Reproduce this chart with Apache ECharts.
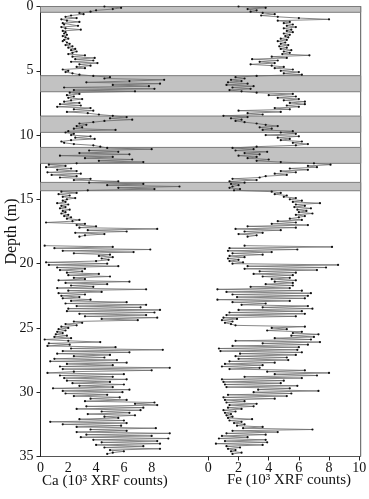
<!DOCTYPE html>
<html>
<head>
<meta charset="utf-8">
<script src="https://cdn.jsdelivr.net/npm/echarts@6/dist/echarts.min.js"></script>
<style>
html, body { margin: 0; padding: 0; background: #fff; }
#chart { width: 369px; height: 499px; }
</style>
</head>
<body>
<div id="chart"></div>
<script>
// sample depths (m); null row marks the core gap around 18 m
var depth = [
  0.0, 0.1, 0.2, 0.3, 0.4, 0.5, 0.6, 0.7, 0.8, 0.9,
  1.0, 1.1, 1.2, 1.3, 1.4, 1.5, 1.6, 1.7, 1.8, 1.9,
  2.0, 2.1, 2.2, 2.3, 2.4, 2.5, 2.6, 2.7, 2.8, 2.9,
  3.0, 3.1, 3.2, 3.3, 3.4, 3.5, 3.6, 3.7, 3.8, 3.9,
  4.0, 4.1, 4.2, 4.3, 4.4, 4.5, 4.6, 4.7, 4.8, 4.9,
  5.0, 5.1, 5.2, 5.3, 5.4, 5.5, 5.6, 5.7, 5.8, 5.9,
  6.0, 6.1, 6.2, 6.3, 6.4, 6.5, 6.6, 6.7, 6.8, 6.9,
  7.0, 7.1, 7.2, 7.3, 7.4, 7.5, 7.6, 7.7, 7.8, 7.9,
  8.0, 8.1, 8.2, 8.3, 8.4, 8.5, 8.6, 8.7, 8.8, 8.9,
  9.0, 9.1, 9.2, 9.3, 9.4, 9.5, 9.6, 9.7, 9.8, 9.9,
  10.0, 10.1, 10.2, 10.3, 10.4, 10.5, 10.6, 10.7, 10.8, 10.9,
  11.0, 11.1, 11.2, 11.3, 11.4, 11.5, 11.6, 11.7, 11.8, 11.9,
  12.0, 12.1, 12.2, 12.3, 12.4, 12.5, 12.6, 12.7, 12.8, 12.9,
  13.0, 13.1, 13.2, 13.3, 13.4, 13.5, 13.6, 13.7, 13.8, 13.9,
  14.0, 14.1, 14.2, 14.3, 14.4, 14.5, 14.6, 14.7, 14.8, 14.9,
  15.0, 15.1, 15.2, 15.3, 15.4, 15.5, 15.6, 15.7, 15.8, 15.9,
  16.0, 16.1, 16.2, 16.3, 16.4, 16.5, 16.6, 16.7, 16.8, 16.9,
  17.0, 17.1, 17.2, 17.3, 17.4, 17.5, 17.6, 17.7, 17.8, 17.9,
  18.25,
  18.6, 18.7, 18.8, 18.9,
  19.0, 19.1, 19.2, 19.3, 19.4, 19.5, 19.6, 19.7, 19.8, 19.9,
  20.0, 20.1, 20.2, 20.3, 20.4, 20.5, 20.6, 20.7, 20.8, 20.9,
  21.0, 21.1, 21.2, 21.3, 21.4, 21.5, 21.6, 21.7, 21.8, 21.9,
  22.0, 22.1, 22.2, 22.3, 22.4, 22.5, 22.6, 22.7, 22.8, 22.9,
  23.0, 23.1, 23.2, 23.3, 23.4, 23.5, 23.6, 23.7, 23.8, 23.9,
  24.0, 24.1, 24.2, 24.3, 24.4, 24.5, 24.6, 24.7, 24.8, 24.9,
  25.0, 25.1, 25.2, 25.3, 25.4, 25.5, 25.6, 25.7, 25.8, 25.9,
  26.0, 26.1, 26.2, 26.3, 26.4, 26.5, 26.6, 26.7, 26.8, 26.9,
  27.0, 27.1, 27.2, 27.3, 27.4, 27.5, 27.6, 27.7, 27.8, 27.9,
  28.0, 28.1, 28.2, 28.3, 28.4, 28.5, 28.6, 28.7, 28.8, 28.9,
  29.0, 29.1, 29.2, 29.3, 29.4, 29.5, 29.6, 29.7, 29.8, 29.9,
  30.0, 30.1, 30.2, 30.3, 30.4, 30.5, 30.6, 30.7, 30.8, 30.9,
  31.0, 31.1, 31.2, 31.3, 31.4, 31.5, 31.6, 31.7, 31.8, 31.9,
  32.0, 32.1, 32.2, 32.3, 32.4, 32.5, 32.6, 32.7, 32.8, 32.9,
  33.0, 33.1, 33.2, 33.3, 33.4, 33.5, 33.6, 33.7, 33.8, 33.9,
  34.0, 34.1, 34.2, 34.3, 34.4, 34.5, 34.6, 34.7, 34.8
];

// Ca, 10^3 XRF counts
var ca = [
  4.6, 5.8, 5.2, 4.0, 3.6, 2.8, 3.1, 2.2, 1.8, 2.6,
  1.5, 1.9, 2.8, 1.6, 1.7, 2.7, 1.5, 1.8, 2.9, 1.6,
  1.8, 1.7, 1.9, 1.6, 1.8, 2.0, 1.7, 1.6, 1.9, 2.1,
  1.8, 2.3, 2.0, 2.5, 2.2, 2.6, 2.3, 2.0, 3.2, 2.3,
  3.9, 2.5, 3.8, 2.2, 4.1, 2.8, 3.6, 2.6, 3.2, 1.6,
  2.0, 1.8, 2.3, 2.8, 3.8, 5.0, 4.6, 8.9, 6.4, 3.3,
  8.6, 5.2, 7.8, 1.7, 8.2, 2.4, 6.8, 2.1, 2.8, 1.9,
  2.4, 2.0, 3.0, 2.2, 1.7, 2.8, 1.4, 2.9, 1.2, 3.6,
  2.4, 3.8, 1.9, 3.4, 4.2, 5.2, 6.2, 5.0, 6.6, 4.6,
  3.8, 2.8, 3.3, 2.6, 3.0, 2.4, 5.4, 2.0, 1.8, 2.4,
  2.2, 3.6, 2.5, 3.9, 2.2, 1.5, 1.7, 2.4, 3.8, 4.3,
  4.8, 8.0, 3.5, 5.6, 2.8, 6.4, 1.4, 5.2, 3.2, 6.6,
  4.2, 7.4, 2.6, 0.6, 1.8, 0.4, 2.2, 1.2, 2.6, 0.5,
  2.9, 0.8, 2.6, 1.4, 3.6, 2.4, 5.6, 3.5, 7.4, 4.8,
  10.0, 5.6, 8.2, 3.4, 1.5, 2.6, 1.3, 2.1, 1.6, 2.5,
  1.9, 1.6, 1.8, 1.2, 2.0, 1.5, 1.8, 1.4, 2.1, 1.6,
  1.8, 1.5, 2.0, 1.7, 2.2, 1.9, 2.8, 2.3, 0.4, 3.2,
  2.6, 4.0, 2.8, 8.4, 3.4, 6.2, 2.5, 4.6, 3.2, 2.8,
  null,
  0.3, 5.2, 1.0, 7.9,
  1.6, 6.7, 2.4, 5.0, 4.2, 5.2, 4.4, 4.9, 4.0, 0.4,
  4.8, 0.6, 5.6, 1.2, 3.2, 1.4, 3.0, 1.9, 4.2, 2.0,
  5.0, 2.4, 3.2, 1.3, 6.4, 1.8, 4.8, 2.2, 3.8, 1.2,
  7.6, 2.0, 4.4, 1.3, 3.2, 1.5, 2.8, 1.6, 3.6, 2.2,
  6.2, 1.8, 7.6, 2.6, 7.2, 2.0, 8.6, 1.9, 8.2, 2.8,
  7.6, 3.2, 8.4, 4.4, 7.0, 2.4, 3.0, 1.8, 2.6, 1.5,
  2.0, 1.3, 1.8, 1.2, 1.6, 1.1, 1.9, 1.0, 2.2, 0.3,
  2.0, 4.3, 0.6, 2.1, 0.5, 5.4, 2.2, 8.8, 1.6, 6.4,
  1.2, 5.0, 2.4, 4.6, 1.0, 5.5, 0.7, 6.2, 1.9, 5.2,
  1.4, 9.3, 1.6, 8.0, 2.4, 0.5, 6.0, 1.4, 5.2, 1.7,
  6.2, 1.9, 5.0, 2.3, 6.0, 2.8, 5.2, 0.9, 6.4, 1.6,
  5.9, 1.8, 4.8, 2.4, 5.7, 3.6, 6.2, 3.2, 8.2, 6.8,
  8.4, 3.3, 7.4, 2.6, 7.2, 4.4, 6.4, 3.4, 6.8, 4.6,
  5.6, 2.8, 6.0, 0.7, 6.2, 1.6, 5.8, 2.6, 8.3, 3.6,
  6.2, 2.6, 9.3, 3.3, 8.0, 2.9, 9.2, 3.8, 8.4, 4.4,
  8.6, 4.0, 7.4, 4.6, 8.6, 5.0, 6.0, 5.2, 4.8
];

// Fe, 10^3 XRF counts
var fe = [
  2.0, 3.8, 2.6, 3.2, 2.8, 3.6, 4.4, 3.5, 4.6, 6.0,
  8.0, 4.6, 5.4, 5.0, 5.6, 5.2, 5.8, 5.0, 5.5, 5.2,
  5.6, 5.0, 5.4, 5.1, 5.3, 4.8, 5.2, 4.6, 5.1, 4.8,
  5.3, 4.7, 5.2, 4.8, 5.5, 5.0, 5.4, 4.9, 6.7, 4.2,
  5.2, 2.9, 4.6, 3.4, 4.4, 2.8, 4.2, 5.0, 4.4, 5.6,
  4.8, 6.0, 5.0, 6.2, 3.2, 1.8, 2.4, 1.5, 2.2, 1.3,
  2.6, 1.2, 3.0, 1.6, 2.8, 1.4, 2.2, 3.2, 5.6, 4.0,
  5.8, 4.6, 6.0, 5.0, 6.4, 5.4, 6.4, 5.2, 6.0, 4.4,
  5.4, 2.0, 4.8, 2.6, 3.6, 1.0, 2.6, 1.5, 2.2, 1.8,
  2.4, 3.2, 3.8, 4.6, 3.4, 4.2, 3.6, 5.6, 4.8, 5.8,
  3.8, 6.0, 4.6, 5.4, 4.8, 6.2, 5.6, 6.6, 5.8, 3.2,
  1.6, 3.0, 1.8, 3.9, 2.4, 3.4, 2.0, 3.2, 2.6, 4.0,
  3.2, 4.8, 7.0, 8.1, 6.6, 7.2, 5.4, 6.6, 4.8, 5.8,
  4.4, 5.2, 3.8, 3.4, 1.6, 3.2, 1.4, 2.4, 1.5, 2.0,
  1.6, 1.4, 2.1, 1.7, 4.2, 4.8, 4.4, 5.2, 5.0, 5.8,
  5.4, 6.2, 5.6, 7.4, 5.8, 6.4, 5.7, 6.8, 5.9, 6.5,
  6.0, 6.9, 5.8, 6.4, 6.0, 5.4, 6.2, 4.6, 5.8, 4.2,
  6.6, 2.6, 5.8, 1.8, 4.8, 2.4, 3.6, 2.0, 3.2, 2.6,
  null,
  2.4, 8.2, 1.4, 5.9,
  1.3, 4.2, 1.6, 3.6, 1.4, 2.4, 1.3, 2.0, 1.4, 2.3,
  1.6, 8.6, 2.6, 7.8, 2.4, 7.2, 3.4, 5.8, 3.0, 5.6,
  3.6, 5.4, 4.2, 5.8, 4.4, 5.6, 3.8, 5.6, 2.8, 5.4,
  0.6, 6.2, 1.2, 6.8, 1.6, 6.6, 1.9, 6.4, 0.6, 5.4,
  1.6, 3.8, 2.2, 6.6, 3.6, 6.9, 2.0, 6.2, 1.4, 6.4,
  1.2, 5.8, 1.0, 1.9, 0.9, 1.6, 1.1, 1.5, 1.8, 6.4,
  4.2, 5.2, 3.9, 6.2, 5.6, 7.3, 5.5, 7.0, 4.4, 6.8,
  1.8, 7.4, 3.6, 6.6, 1.6, 6.0, 0.7, 5.9, 0.8, 6.2,
  2.1, 5.8, 1.8, 5.2, 2.0, 5.3, 1.4, 4.4, 1.1, 3.6,
  0.9, 3.4, 1.4, 6.4, 3.9, 8.0, 4.4, 7.2, 2.4, 6.2,
  0.9, 5.0, 1.0, 4.8, 1.1, 5.9, 1.2, 5.4, 3.3, 7.3,
  3.0, 5.5, 1.3, 5.2, 1.0, 4.4, 1.1, 2.4, 1.2, 3.2,
  1.4, 3.0, 1.3, 2.2, 1.0, 1.8, 1.1, 1.5, 1.2, 1.6,
  1.3, 2.9, 1.4, 2.2, 1.7, 2.4, 1.9, 3.6, 2.3, 6.9,
  1.6, 4.6, 1.2, 3.8, 0.9, 2.6, 0.7, 3.8, 1.1, 3.9,
  0.5, 3.6, 1.2, 2.1, 1.3, 1.8, 1.5, 2.2, 1.6
];

// shaded depth intervals (m)
var bands = [[0, 0.45], [5.38, 6.63], [8.52, 9.79], [10.96, 12.2], [13.68, 14.33]];

var depthTicks = [0, 5, 10, 15, 20, 25, 30, 35];
var caTicks = [0, 2, 4, 6, 8];
var feTicks = [0, 2, 4, 6, 8, 10];

function pairs(vals) {
  return depth.map(function (d, i) {
    return [vals[i] == null ? '-' : vals[i], d];
  });
}

var serif = 'Liberation Serif';
var myChart = echarts.init(document.getElementById('chart'));

var lineStyle = { color: '#6a6a6a', width: 0.8 };
var dotStyle = { color: '#111' };

var option = {
  animation: false,
  grid: {
    left: 40.5, right: 8.3, top: 6.5, bottom: 42.5,
    containLabel: false, outerBoundsMode: 'none',
    show: true, borderColor: '#555', borderWidth: 1
  },
  xAxis: [
    {
      type: 'value', min: 0, max: 23.04, position: 'bottom',
      axisLine: { lineStyle: { color: '#222' } },
      axisTick: { customValues: caTicks, length: 4, lineStyle: { color: '#222' } },
      axisLabel: { customValues: caTicks, color: '#111', fontFamily: serif, fontSize: 14, margin: 5 },
      splitLine: { show: false }
    },
    {
      type: 'value', min: -11.13, max: 10.1, position: 'bottom',
      axisLine: { show: false },
      axisTick: { customValues: feTicks, length: 4, lineStyle: { color: '#222' } },
      axisLabel: { customValues: feTicks, color: '#111', fontFamily: serif, fontSize: 14, margin: 5 },
      splitLine: { show: false }
    }
  ],
  yAxis: {
    type: 'value', inverse: true, min: 0, max: 35, interval: 5,
    name: 'Depth (m)', nameLocation: 'middle', nameGap: 21, nameMoveOverlap: false,
    nameTextStyle: { fontFamily: serif, fontSize: 16, color: '#111' },
    axisLine: { show: true, lineStyle: { color: '#222' } },
    axisTick: { show: true, length: 4, lineStyle: { color: '#222' } },
    axisLabel: { customValues: depthTicks, color: '#111', fontFamily: serif, fontSize: 14, margin: 7 },
    splitLine: { show: false }
  },
  graphic: [
    { type: 'text', left: 42, top: 474, style: { text: 'Ca (10³ XRF counts)', font: '15px "Liberation Serif"', fill: '#111' } },
    { type: 'text', left: 227, top: 473, style: { text: 'Fe (10³ XRF counts)', font: '15px "Liberation Serif"', fill: '#111' } }
  ],
  series: [
    {
      name: 'bands', type: 'line', xAxisIndex: 0, yAxisIndex: 0, data: [], z: 1, silent: true,
      markArea: {
        silent: true,
        itemStyle: { color: '#c2c2c2', borderColor: '#7c7c7c', borderWidth: 1 },
        data: bands.map(function (b) { return [{ yAxis: b[0] }, { yAxis: b[1] }]; })
      }
    },
    {
      name: 'Ca', type: 'line', xAxisIndex: 0, yAxisIndex: 0, z: 3,
      data: pairs(ca), symbol: 'circle', symbolSize: 2.2, showSymbol: true,
      lineStyle: lineStyle, itemStyle: dotStyle, connectNulls: false
    },
    {
      name: 'Fe', type: 'line', xAxisIndex: 1, yAxisIndex: 0, z: 3,
      data: pairs(fe), symbol: 'circle', symbolSize: 2.2, showSymbol: true,
      lineStyle: lineStyle, itemStyle: dotStyle, connectNulls: false
    }
  ]
};
myChart.setOption(option);
</script>
</body>
</html>
